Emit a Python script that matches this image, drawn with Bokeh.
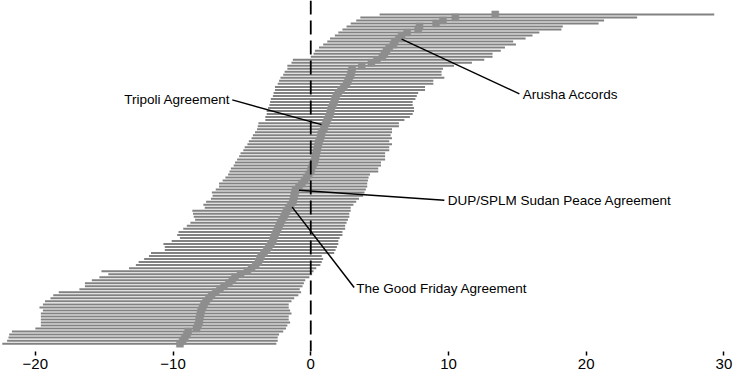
from bokeh.plotting import figure
from bokeh.models import Range1d, Span, FixedTicker, ColumnDataSource
from bokeh.core.properties import value
from bokeh.embed import file_html
from bokeh.resources import INLINE

# Rows listed from top of the chart to the bottom
estimate = [13.4, 10.5, 9.6, 9.1, 7.9, 7.8, 7.0, 6.6, 6.4, 6.1,
            6.0, 5.7, 5.5, 5.35, 5.2, 4.8, 4.4, 3.7, 3.0, 2.95,
            2.9, 2.8, 2.7, 2.6, 2.4, 2.2, 2.0, 1.85, 1.75, 1.7,
            1.6, 1.5, 1.45, 1.4, 1.3, 1.2, 1.1, 1.0, 0.95,
            0.8, 0.75, 0.7, 0.6, 0.55, 0.5, 0.45, 0.4, 0.35, 0.3,
            0.25, 0.15, 0.05, 0.0, -0.15, -0.3, -0.45, -0.65, -0.85, -1.1,
            -1.15, -1.2, -1.25, -1.3, -1.45, -1.6, -1.75, -1.85, -1.95, -2.1,
            -2.2, -2.3, -2.4, -2.5, -2.6, -2.7, -2.75, -2.9, -3.05, -3.2,
            -3.4, -3.6, -3.7, -3.8, -4.0, -4.3, -4.6, -5.1, -5.5, -5.7,
            -5.95, -6.3, -6.6, -6.9, -7.2, -7.4, -7.6, -7.75, -7.85, -7.95,
            -8.0, -8.05, -8.1, -8.1, -8.2, -8.3, -8.9, -9.0, -9.15,
            -9.3, -9.5]

lower = [5.0, 3.6, 3.3, 2.9, 2.6, 2.3, 2.0, 1.75, 1.4, 1.2,
         0.9, 0.6, 0.3, 0.2, 0.0, -1.3, -1.4, -1.7, -1.7, -1.9,
         -2.0, -2.2, -2.3, -2.4, -2.6, -2.6, -2.7, -2.75, -2.9, -2.95,
         -3.0, -3.1, -3.2, -3.2, -3.3, -3.3, -3.8, -3.85, -3.9, -4.05,
         -4.2, -4.3, -4.5, -4.6, -4.8, -4.9, -5.1, -5.2, -5.35, -5.5,
         -5.6, -5.8, -5.9, -6.0, -6.2, -6.4,
         -6.66, -6.66, -6.9, -7.18, -7.13, -7.25, -7.6, -7.8, -7.7, -8.6,
         -8.55, -8.5, -8.4, -8.74, -9.0, -9.26, -9.6, -9.7, -9.5, -10.1,
         -10.7, -10.6, -10.6, -11.6, -11.75, -12.1, -12.5, -12.7, -13.2, -15.2,
         -14.7, -15.35, -15.9, -16.4, -16.4, -16.8, -18.3, -18.7, -18.9, -19.3,
         -19.45, -19.7, -19.45, -19.6, -19.6, -19.6, -19.6, -19.6, -20.0, -21.7,
         -21.9, -21.95, -22.05, -22.4]

upper = [29.3, 23.7, 21.3, 20.9, 18.3, 18.2, 16.6, 16.1, 15.6, 14.7,
         14.9, 14.1, 13.8, 13.2, 13.2, 12.6, 11.7, 10.4, 9.6, 9.5,
         9.5, 9.7, 8.9, 8.9, 8.3, 8.3, 7.8, 7.7, 7.6, 7.4,
         7.4, 7.5, 7.5, 7.4, 7.2, 6.8, 6.4, 6.4, 5.9, 5.9,
         5.8, 5.9, 5.7, 5.9, 5.7, 5.7, 5.4, 5.4, 5.4, 5.1,
         5.1, 4.9, 4.9, 4.3, 4.2, 4.15, 4.1,
         4.1, 4.0, 3.9, 3.8, 3.5, 3.3, 3.1, 2.9, 2.9, 2.8,
         2.8, 2.7, 2.6, 2.5, 2.5, 2.3, 2.3, 2.1, 2.0, 2.0,
         1.9, 1.8, 1.7, 0.8, 0.9, 0.8, 0.7, 0.4, 0.2, 0.1,
         -0.1, -0.4, -0.5, -0.6, -0.8, -0.7, -0.9, -1.2, -1.4, -1.6,
         -1.6, -1.5, -1.4, -1.6, -1.6, -1.5, -1.7, -1.8, -2.0, -2.3,
         -2.4, -2.4, -2.5]

tick_values = [-20, -10, 0, 10, 20, 30]
tick_labels = ["\u221220", "\u221210", "0", "10", "20", "30"]

labels = ["Tripoli Agreement", "Arusha Accords",
          "DUP/SPLM Sudan Peace Agreement", "The Good Friday Agreement"]

n = len(estimate)
rows = list(range(n - 1, -1, -1))
src = ColumnDataSource(data=dict(est=estimate, lo=lower, hi=upper, row=rows))

p = figure(width=734, height=371, output_backend="svg", toolbar_location=None,
           x_range=Range1d(-22.53, 30.77), y_range=Range1d(-2.6, 113.6),
           min_border_left=0, min_border_right=0, min_border_top=0, min_border_bottom=0)
p.outline_line_color = None
p.grid.visible = False
p.yaxis.visible = False
p.background_fill_color = "white"

p.segment(x0="lo", y0="row", x1="hi", y1="row", source=src,
          line_color="#828282", line_width=2)
p.scatter(x="est", y="row", source=src, marker="square", size=7,
          fill_color="#8e8e8e", line_color="#8e8e8e", line_width=0.5)

p.add_layout(Span(location=0, dimension="height", line_color="black",
                  line_width=1.8, line_dash="14 6"))

# annotation layout: (label index, text x, text y, anchor, line start, line end)
notes = [
    (0, -5.85, 80.7, "right", (-5.7, 80.7), (0.78, 72.5)),
    (1, 15.4, 82.4, "left", (6.6, 100.8), (15.15, 82.7)),
    (2, 9.95, 47.5, "left", (-0.85, 50.8), (9.7, 47.5)),
    (3, 3.3, 18.2, "left", (-1.35, 45.2), (3.15, 18.6)),
]
for idx, tx, ty, align, a, b in notes:
    p.line([a[0], b[0]], [a[1], b[1]], line_color="black", line_width=1.5)
    p.text(x=[tx], y=[ty], text=[labels[idx]], text_font=value("Liberation Sans"),
           text_font_size="13.5px", text_baseline="middle", text_align=align,
           text_color="black")

ax = p.xaxis[0]
ax.ticker = FixedTicker(ticks=tick_values)
ax.major_label_overrides = {v: t for v, t in zip(tick_values, tick_labels)}
ax.axis_line_color = None
ax.major_tick_in = 0
ax.major_tick_out = 4
ax.major_tick_line_width = 1.5
ax.major_tick_line_color = "black"
ax.minor_tick_out = 0
ax.minor_tick_in = 0
ax.major_label_text_font = "Liberation Sans"
ax.major_label_text_font_size = "15px"
ax.major_label_text_color = "black"
ax.major_label_standoff = 3

open("out.html", "w").write(file_html(p, INLINE))
